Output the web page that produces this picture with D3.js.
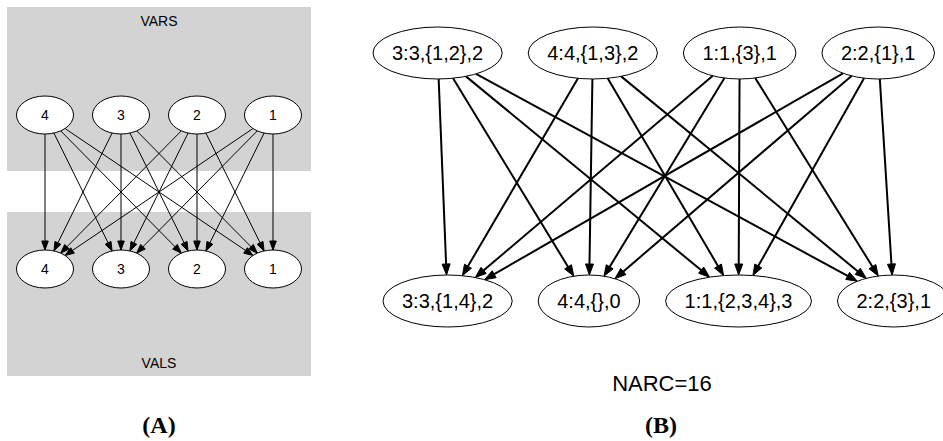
<!DOCTYPE html>
<html>
<head>
<meta charset="utf-8">
<script src="https://cdn.jsdelivr.net/npm/d3@7"></script>
<style>
body { margin: 0; background: #fff; }
svg { display: block; }
</style>
</head>
<body>
<div id="chart"></div>
<script>
// panel A: variables / values
var varsA = ["4", "3", "2", "1"];
var valsA = ["4", "3", "2", "1"];
var edgesA = [
    ["4", "4"], ["4", "3"], ["4", "2"], ["4", "1"],
    ["3", "4"], ["3", "3"], ["3", "2"], ["3", "1"],
    ["2", "4"], ["2", "3"], ["2", "2"], ["2", "1"],
    ["1", "4"], ["1", "3"], ["1", "2"], ["1", "1"]
];

// panel B: annotated nodes
var varsB = ["3:3,{1,2},2", "4:4,{1,3},2", "1:1,{3},1", "2:2,{1},1"];
var valsB = ["3:3,{1,4},2", "4:4,{},0", "1:1,{2,3,4},3", "2:2,{3},1"];
var edgesB = [
    [0, 0], [0, 1], [0, 2], [0, 3],
    [1, 0], [1, 1], [1, 2], [1, 3],
    [2, 0], [2, 1], [2, 2], [2, 3],
    [3, 0], [3, 1], [3, 2], [3, 3]
];
var panelLabels = ["(A)", "(B)"];

var W = 943, H = 441;
var sans = "'Liberation Sans', Arial, Helvetica, sans-serif";
var serif = "'Liberation Serif', 'Times New Roman', serif";

var svg = d3.select("#chart")
    .append("svg")
    .attr("width", W)
    .attr("height", H);

// clip the centre-to-centre segment to both ellipses, leave room for arrow
function edgeGeom(s, t, headLen, headW) {
    var dx = t.x - s.x, dy = t.y - s.y;
    var ts = 1 / Math.sqrt(Math.pow(dx / s.rx, 2) + Math.pow(dy / s.ry, 2));
    var tt = 1 / Math.sqrt(Math.pow(dx / t.rx, 2) + Math.pow(dy / t.ry, 2));
    var x0 = s.x + dx * ts, y0 = s.y + dy * ts;
    var x1 = t.x - dx * tt, y1 = t.y - dy * tt;
    var len = Math.sqrt(dx * dx + dy * dy);
    var ux = dx / len, uy = dy / len;
    var bx = x1 - ux * headLen, by = y1 - uy * headLen;
    var px = -uy * headW / 2, py = ux * headW / 2;
    return {
        line: d3.line()([[x0, y0], [bx + ux, by + uy]]),
        head: "M" + x1 + "," + y1 + "L" + (bx + px) + "," + (by + py) +
              "L" + (bx - px) + "," + (by - py) + "Z"
    };
}

function drawEdges(g, edges, nodeFor, width, headLen, headW) {
    var eg = g.append("g").attr("class", "edges");
    edges.forEach(function (e) {
        var geo = edgeGeom(nodeFor(e, 0), nodeFor(e, 1), headLen, headW);
        eg.append("path")
            .attr("d", geo.line)
            .attr("fill", "none")
            .attr("stroke", "#000")
            .attr("stroke-width", width);
        eg.append("path")
            .attr("d", geo.head)
            .attr("fill", "#000")
            .attr("stroke", "#000")
            .attr("stroke-width", 1);
    });
}

function drawNodes(g, nodes, fontSize, dy) {
    var ng = g.selectAll(null)
        .data(nodes)
        .enter()
        .append("g");
    ng.append("ellipse")
        .attr("cx", function (d) { return d.x; })
        .attr("cy", function (d) { return d.y; })
        .attr("rx", function (d) { return d.rx; })
        .attr("ry", function (d) { return d.ry; })
        .attr("fill", "#fff")
        .attr("stroke", "#000")
        .attr("stroke-width", 1);
    ng.append("text")
        .attr("x", function (d) { return d.x; })
        .attr("y", function (d) { return d.y + dy; })
        .attr("text-anchor", "middle")
        .style("font-family", sans)
        .style("font-size", fontSize + "px")
        .text(function (d) { return d.label; });
}

// ---------------- Panel A ----------------
var gA = svg.append("g").attr("class", "panelA");
var xA = d3.scalePoint().domain(varsA).range([45, 273]);
var yA = d3.scalePoint().domain(["vars", "vals"]).range([115, 269]);

gA.append("rect").attr("x", 7).attr("y", 7).attr("width", 304).attr("height", 164)
    .attr("fill", "#d3d3d3");
gA.append("rect").attr("x", 7).attr("y", 212).attr("width", 304).attr("height", 164)
    .attr("fill", "#d3d3d3");

gA.append("text").attr("x", 159).attr("y", 26).attr("text-anchor", "middle")
    .style("font-family", sans).style("font-size", "14px").text("VARS");
gA.append("text").attr("x", 159).attr("y", 368).attr("text-anchor", "middle")
    .style("font-family", sans).style("font-size", "14px").text("VALS");

var topA = varsA.map(function (v) { return { label: v, x: xA(v), y: yA("vars"), rx: 28.5, ry: 19 }; });
var botA = valsA.map(function (v) { return { label: v, x: xA(v), y: yA("vals"), rx: 28.5, ry: 19 }; });
var topAById = {}, botAById = {};
topA.forEach(function (n) { topAById[n.label] = n; });
botA.forEach(function (n) { botAById[n.label] = n; });

drawEdges(gA, edgesA, function (e, k) { return k === 0 ? topAById[e[0]] : botAById[e[1]]; }, 1, 9, 6.5);
drawNodes(gA, topA, 14, 5);
drawNodes(gA, botA, 14, 5);

// ---------------- Panel B ----------------
var gB = svg.append("g").attr("class", "panelB");
var fsB = 20, padB = 19, gapB = 26;

// measure label widths to size the ellipses
var meas = svg.append("text").style("font-family", sans).style("font-size", fsB + "px");
function textW(s) { meas.text(s); return meas.node().getComputedTextLength(); }

function rowLayout(labels, left, y) {
    var x = left;
    return labels.map(function (l) {
        var rx = textW(l) / 2 + padB;
        var n = { label: l, x: x + rx, y: y, rx: rx, ry: 26 };
        x += 2 * rx + gapB;
        return n;
    });
}
var yB = d3.scalePoint().domain(["vars", "vals"]).range([53, 301]);
var topB = rowLayout(varsB, 373, yB("vars"));
var botB = rowLayout(valsB, 383, yB("vals"));
meas.remove();

drawEdges(gB, edgesB, function (e, k) { return k === 0 ? topB[e[0]] : botB[e[1]]; }, 2, 11, 8);
drawNodes(gB, topB, fsB, 7);
drawNodes(gB, botB, fsB, 7);

gB.append("text").attr("x", 662).attr("y", 391).attr("text-anchor", "middle")
    .style("font-family", sans).style("font-size", "22px")
    .text("NARC=" + edgesB.length);

// panel captions
var xCap = d3.scaleOrdinal().domain(panelLabels).range([159, 661]);
svg.selectAll(".cap")
    .data(panelLabels)
    .enter()
    .append("text")
    .attr("class", "cap")
    .attr("x", function (d) { return xCap(d); })
    .attr("y", 433)
    .attr("text-anchor", "middle")
    .style("font-family", serif)
    .style("font-weight", "bold")
    .style("font-size", "24px")
    .text(function (d) { return d; });
</script>
</body>
</html>
